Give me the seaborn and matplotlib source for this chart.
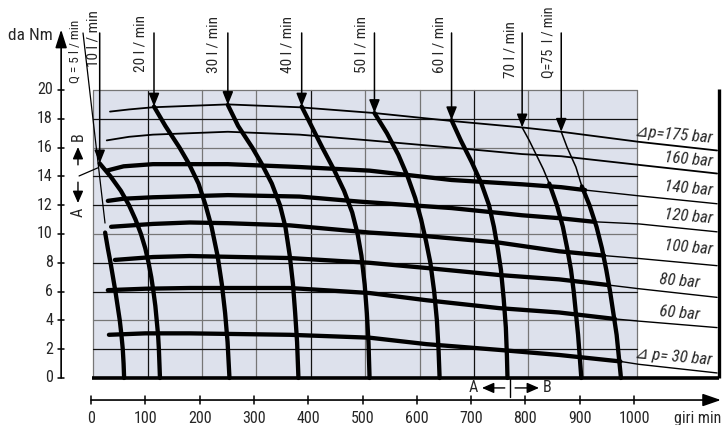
import numpy as np
import matplotlib
matplotlib.use("Agg")
import matplotlib.pyplot as plt
import seaborn as sns
from matplotlib import font_manager as fm
from matplotlib.patches import Rectangle

# ------------------------------------------------------------------ data
rpm_ticks = [0, 100, 200, 300, 400, 500, 600, 700, 800, 900, 1000]
torque_ticks = [0, 2, 4, 6, 8, 10, 12, 14, 16, 18, 20]

# constant pressure-drop curves (rpm, daNm)
dp175_rpm = [35, 70, 114, 252, 384, 522, 664, 794, 866, 1009, 1153]
dp175_torque = [18.5, 18.65, 18.8, 19.0, 18.8, 18.4, 17.85, 17.4, 17.1, 16.4, 15.8]
dp160_rpm = [29, 70, 114, 252, 384, 513, 664, 794, 866, 1009, 1153]
dp160_torque = [16.5, 16.75, 16.9, 17.1, 16.9, 16.5, 16.0, 15.55, 15.4, 14.8, 14.2]
dp140_rpm = [29, 60, 114, 252, 384, 513, 664, 794, 866, 910, 1009, 1153]
dp140_torque = [14.4, 14.7, 14.85, 14.85, 14.65, 14.4, 13.75, 13.45, 13.25, 13.05, 12.65, 12.1]
dp120_rpm = [31, 60, 114, 252, 384, 494, 664, 794, 862, 926, 1009, 1153]
dp120_torque = [12.3, 12.45, 12.55, 12.7, 12.6, 12.25, 11.8, 11.3, 11.1, 10.85, 10.7, 10.15]
dp100_rpm = [37, 114, 182, 252, 366, 513, 618, 752, 862, 945, 1009, 1153]
dp100_torque = [10.5, 10.7, 10.8, 10.75, 10.6, 10.1, 9.85, 9.4, 8.8, 8.5, 8.3, 7.8]
dp80_rpm = [44, 114, 182, 366, 513, 618, 752, 862, 954, 1009, 1153]
dp80_torque = [8.2, 8.4, 8.47, 8.33, 8.0, 7.64, 7.15, 6.85, 6.45, 6.2, 5.6]
dp60_rpm = [31, 100, 182, 366, 513, 618, 752, 862, 965, 1009, 1153]
dp60_torque = [6.1, 6.2, 6.25, 6.25, 5.9, 5.4, 4.85, 4.55, 4.1, 3.95, 3.5]
dp30_rpm = [33, 100, 182, 366, 513, 618, 752, 862, 975, 1009, 1153]
dp30_torque = [3.0, 3.1, 3.1, 3.0, 2.8, 2.35, 1.95, 1.6, 1.15, 0.95, 0.35]

dp_labels = ["\u22bfp=175 bar", "160 bar", "140 bar", "120 bar",
             "100 bar", "80 bar", "60 bar", "\u22bf p= 30 bar"]

# constant flow curves (rpm, daNm)
q5_rpm = [26, 31, 36, 40.5, 45, 49, 53, 56, 58.5, 60, 61]
q5_torque = [10.1, 9, 8, 7, 6, 5, 4, 3, 2, 1, 0]
q10_rpm = [16, 36, 55, 70, 82, 92, 100, 106, 111, 115, 118.5, 121, 123.5, 125, 126, 127]
q10_torque = [14.9, 14, 13, 12, 11, 10, 9, 8, 7, 6, 5, 4, 3, 2, 1, 0]
q20_rpm = [116, 137, 163, 180, 198, 211, 222, 233, 241, 247, 251.5, 255]
q20_torque = [18.85, 17.5, 16, 14.9, 13.5, 12, 10.5, 8.5, 6.5, 4.5, 2.5, 0]
q30_rpm = [252, 271, 297, 314, 333, 348, 358, 366, 372, 376, 379.5, 382]
q30_torque = [18.96, 17.5, 16, 14.9, 13.5, 12, 10.5, 8.5, 6.5, 4.5, 2.5, 0]
q40_rpm = [388, 406, 426, 447, 466, 481, 491, 498, 504, 508, 511, 513]
q40_torque = [18.85, 17.5, 16, 14.5, 13, 11.5, 10, 8.5, 6.5, 4.5, 2.5, 0]
q50_rpm = [522, 545, 566, 583, 597, 608, 617, 625, 632, 637, 640, 642]
q50_torque = [18.4, 17, 15.5, 14, 12.5, 11, 9.5, 8, 6, 4, 2, 0]
q60_rpm = [664, 681, 701, 719, 733, 742, 749, 755, 760, 764, 766, 767]
q60_torque = [17.9, 16.5, 15, 13.5, 12, 10.5, 9, 7.5, 5.5, 3.5, 1.5, 0]
q70_rpm = [794, 807, 820, 833, 844, 858, 869, 877, 884, 889, 893, 897, 900, 903]
q70_torque = [17.4, 16.5, 15.5, 14.5, 13.5, 12, 10.5, 9, 7.5, 6, 4.5, 3, 1.5, 0]
q75_rpm = [866, 877, 893, 904, 918, 931, 941, 949, 956, 962, 968, 972, 976]
q75_torque = [17.1, 16.0, 14.65, 13.3, 12, 10.5, 9, 7.5, 6, 4.5, 3, 1.5, 0]

q_labels = ["Q = 5 l / min", "10 l / min", "20 l / min", "30 l / min", "40 l / min",
            "50 l / min", "60 l / min", "70 l / min", "Q=75  l / min"]

# ------------------------------------------------------------------ style
sns.set_style("white")
avail = {f.name for f in fm.fontManager.ttflist}
NARROW = None
for cand in ["Liberation Sans Narrow", "Arial Narrow", "Roboto Condensed"]:
    if cand in avail:
        NARROW = cand
        break
if NARROW:
    FONT = NARROW
    FS_TICK, FS_RIGHT, FS_GIRI, FS_DANM = 11.5, 12, 11.5, 12.5
    FS_Q = [9.5, 11, 11, 11, 11, 11, 11, 11, 10.3]
else:
    FONT = "Liberation Sans"
    FS_TICK, FS_RIGHT, FS_GIRI, FS_DANM = 10, 10, 9.5, 10.5
    FS_Q = [8.3, 9.5, 9.5, 9.5, 9.5, 9.5, 9.5, 9.5, 9]
plt.rcParams["font.family"] = [FONT, "DejaVu Sans"]

THICK = 3.1
THIN = 1.1
GRID_BG = "#dde1ec"
GRID_DARK = "#111111"
GRID_GRAY = "#767676"

fig = plt.figure(figsize=(7.23, 4.25), dpi=100)
ax = fig.add_axes([0, 0, 1, 1])


def line(x, y, lw, z=3):
    sns.lineplot(x=x, y=y, sort=False, estimator=None, color="black",
                 linewidth=lw, ax=ax, solid_capstyle="round",
                 solid_joinstyle="round", zorder=z)


# ------------------------------------------------------------------ grid box
ax.add_patch(Rectangle((4, 0), 1002, 20, facecolor=GRID_BG, edgecolor="none", zorder=0))
vx = np.linspace(4, 1006, 11)
vcol = [GRID_GRAY, GRID_DARK, GRID_GRAY, GRID_GRAY, GRID_DARK, GRID_GRAY,
        GRID_GRAY, GRID_DARK, GRID_GRAY, GRID_GRAY, GRID_GRAY]
for xv, c in zip(vx, vcol):
    ax.plot([xv, xv], [0, 20], color=c, lw=0.9, zorder=1)
hcol = {2: GRID_DARK, 4: GRID_GRAY, 6: GRID_DARK, 8: GRID_DARK, 10: GRID_GRAY,
        12: GRID_DARK, 14: GRID_DARK, 16: GRID_GRAY, 18: GRID_DARK, 20: GRID_GRAY}
for yv in torque_ticks[1:]:
    ax.plot([4, 1006], [yv, yv], color=hcol[yv], lw=0.9, zorder=1)

# frame: bottom thick line and right thick bar
ax.plot([2, 1156], [0, 0], color="black", lw=2.6, zorder=4, solid_capstyle="butt")
ax.plot([1157, 1157], [0, 20.1], color="black", lw=2.4, zorder=4, solid_capstyle="butt")

# ------------------------------------------------------------------ pressure curves
dp_series = [(dp175_rpm, dp175_torque, None), (dp160_rpm, dp160_torque, None),
             (dp140_rpm, dp140_torque, 910), (dp120_rpm, dp120_torque, 926),
             (dp100_rpm, dp100_torque, 945), (dp80_rpm, dp80_torque, 954),
             (dp60_rpm, dp60_torque, 965), (dp30_rpm, dp30_torque, 975)]
for xs, ys, cut in dp_series:
    xs = np.asarray(xs, float)
    ys = np.asarray(ys, float)
    if cut is None:
        line(xs, ys, 1.3)
    else:
        m1 = xs <= cut
        m2 = xs >= cut
        line(xs[m1], ys[m1], THICK)
        line(xs[m2], ys[m2], 1.0)

# ------------------------------------------------------------------ flow curves
q_series = [(q5_rpm, q5_torque, None), (q10_rpm, q10_torque, None),
            (q20_rpm, q20_torque, None), (q30_rpm, q30_torque, None),
            (q40_rpm, q40_torque, None), (q50_rpm, q50_torque, None),
            (q60_rpm, q60_torque, None), (q70_rpm, q70_torque, 13.5),
            (q75_rpm, q75_torque, 13.3)]
for xs, ys, cut in q_series:
    xs = np.asarray(xs, float)
    ys = np.asarray(ys, float)
    if cut is None:
        line(xs, ys, THICK)
    else:
        m1 = ys >= cut
        m2 = ys <= cut
        line(xs[m1], ys[m1], THIN)
        line(xs[m2], ys[m2], THICK)

# arrows from flow labels down to curve starts
ARROW_TOP = 23.96
arrow_kw = dict(arrowstyle="-|>,head_length=0.8,head_width=0.32", color="black",
                lw=1.1, shrinkA=0, shrinkB=0, mutation_scale=10)
for xs, ys, _ in q_series[1:]:
    ax.annotate("", xy=(xs[0], ys[0]), xytext=(xs[0], ARROW_TOP),
                arrowprops=arrow_kw, zorder=5)
# Q=5 leader (no arrow head)
ax.plot([-14.7, 25.8], [23.96, 10.76], color="black", lw=0.9, zorder=5)

# flow labels (rotated)
q_label_x = [-29.5, 5.5, 92, 225, 361, 499, 641, 772, 842]
q_label_y = [20.49, 21.6, 21.25, 21.18, 21.18, 21.18, 21.18, 20.83, 20.83]
for t, lx, ly, fs in zip(q_labels, q_label_x, q_label_y, FS_Q):
    ax.text(lx, ly, t, rotation=90, ha="center", va="bottom", fontsize=fs)

# pressure labels at right
dp_label_x = [1145, 1145, 1145, 1145, 1145, 1121, 1121, 1144]
dp_label_y = [16.67, 15.0, 12.99, 11.04, 8.89, 6.6, 4.375, 1.25]
for t, lx, ly in zip(dp_labels, dp_label_x, dp_label_y):
    ax.text(lx, ly, t, rotation=-5, rotation_mode="anchor", ha="right", va="center",
            fontsize=FS_RIGHT, style="italic")

# ------------------------------------------------------------------ axes (drawn)
YAX_X = -55
XAX_Y = -1.53
ax.annotate("", xy=(YAX_X, 24.2), xytext=(YAX_X, 0),
            arrowprops=dict(arrowstyle="-|>,head_length=1.1,head_width=0.35",
                            color="black", lw=1.2, shrinkA=0, shrinkB=0,
                            mutation_scale=10))
ax.annotate("", xy=(1160, XAX_Y), xytext=(0, XAX_Y),
            arrowprops=dict(arrowstyle="-|>,head_length=1.1,head_width=0.38",
                            color="black", lw=1.2, shrinkA=0, shrinkB=0,
                            mutation_scale=10))
for yv in torque_ticks:
    ax.plot([-61, -49.5], [yv, yv], color="black", lw=1.1)
    ax.text(-70, yv, str(yv), ha="right", va="center", fontsize=FS_TICK)
for xv in rpm_ticks:
    ax.plot([xv, xv], [XAX_Y + 0.28, XAX_Y - 0.28], color="black", lw=1.1)
    ax.text(xv, -2.78, str(xv), ha="center", va="center", fontsize=FS_TICK)
ax.text(-112, 23.75, "da Nm", ha="center", va="center", fontsize=FS_DANM)
ax.text(1161, -2.78, "giri min", ha="right", va="center", fontsize=FS_GIRI)

# ------------------------------------------------------------------ A / B markers
small_kw = dict(arrowstyle="-|>,head_length=0.8,head_width=0.35", color="black",
                lw=1.0, shrinkA=0, shrinkB=0, mutation_scale=9)
ax.text(-24, 16.74, "B", rotation=90, ha="center", va="center", fontsize=FS_TICK)
ax.annotate("", xy=(-24, 16.04), xytext=(-24, 14.8), arrowprops=small_kw)
ax.annotate("", xy=(-24, 12.15), xytext=(-24, 13.6), arrowprops=small_kw)
ax.text(-24, 11.53, "A", rotation=90, ha="center", va="center", fontsize=FS_TICK)
ax.plot([-22, 13], [14.03, 14.6], color="black", lw=0.9, zorder=5)

ax.plot([771.6, 771.6], [0, -1.32], color="black", lw=1.0)
ax.text(703.5, -0.65, "A", ha="center", va="center", fontsize=FS_TICK)
ax.annotate("", xy=(720, -0.69), xytext=(762, -0.69), arrowprops=small_kw)
ax.annotate("", xy=(825, -0.69), xytext=(781, -0.69), arrowprops=small_kw)
ax.text(840, -0.65, "B", ha="center", va="center", fontsize=FS_TICK)

# ------------------------------------------------------------------ limits
ax.set_xlim(-167.6, 1163.9)
ax.set_ylim(-3.264, 26.25)
ax.axis("off")
ax.set_xlabel("")
ax.set_ylabel("")

fig.savefig("out.png", dpi=100)
